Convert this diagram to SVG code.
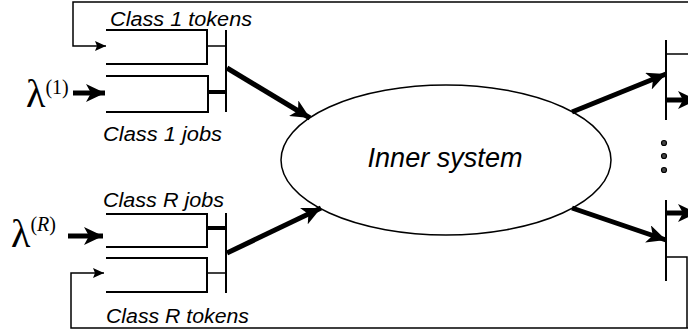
<svg xmlns="http://www.w3.org/2000/svg" width="688" height="333" viewBox="0 0 688 333">
<style>
.q{fill:none;stroke:#000;stroke-width:2}
.bar{fill:none;stroke:#000;stroke-width:2}
.thin{fill:none;stroke:#000;stroke-width:1.5}
.thick{fill:none;stroke:#000;stroke-width:5}
.conn{fill:none;stroke:#000;stroke-width:4}
.lbl{font-family:"Liberation Sans",Arial,sans-serif;font-style:italic;font-size:20px;fill:#000}
.lam{font-family:"Liberation Serif","Times New Roman",serif;fill:#000}
.dot{fill:#444;stroke:#000;stroke-width:1.2}
</style>
<defs>
<marker id="big" markerUnits="userSpaceOnUse" markerWidth="20" markerHeight="18" refX="19" refY="9" orient="auto">
<path d="M0,0 L19,9 L0,18 L5,9 Z" fill="#000"/>
</marker>
<marker id="small" markerUnits="userSpaceOnUse" markerWidth="12" markerHeight="10" refX="11" refY="5" orient="auto">
<path d="M0,0 L11,5 L0,10 L2,5 Z" fill="#000"/>
</marker>
</defs>
<rect width="688" height="333" fill="#fff"/>

<g id="connectors">
<polyline class="thin" points="688,2 73,2 73,46 106,46" marker-end="url(#small)"/>
<polyline class="thin" points="688,328 71,328 71,273 104,273" marker-end="url(#small)"/>
<line class="thick" x1="73" y1="93" x2="105" y2="93" marker-end="url(#big)"/>
<line class="thick" x1="68" y1="236" x2="103" y2="236" marker-end="url(#big)"/>
<line class="thick" x1="227" y1="68" x2="310" y2="118" marker-end="url(#big)"/>
<line class="thick" x1="227" y1="253" x2="321" y2="208" marker-end="url(#big)"/>
<line class="thick" x1="572" y1="112" x2="666" y2="74" marker-end="url(#big)"/>
<line class="thick" x1="572" y1="208" x2="666" y2="240" marker-end="url(#big)"/>
<line class="thick" x1="667" y1="100" x2="697" y2="100" marker-end="url(#big)"/>
<line class="thick" x1="667" y1="213" x2="697" y2="213" marker-end="url(#big)"/>
</g>

<g id="class1-tokens">
<path class="q" d="M106,30 H207 V64 H106"/>
<line class="thin" x1="207" y1="46" x2="226" y2="46"/>
<text class="lbl" x="110" y="26" textLength="142" lengthAdjust="spacingAndGlyphs">Class 1 tokens</text>
</g>
<g id="class1-jobs">
<path class="q" d="M106,76 H208 V112 H106"/>
<line class="conn" x1="208" y1="92" x2="226" y2="92"/>
<text class="lbl" x="103" y="141" textLength="119" lengthAdjust="spacingAndGlyphs">Class 1 jobs</text>
</g>
<g id="sync1">
<line class="bar" x1="226" y1="30" x2="226" y2="112"/>
</g>
<g id="lambda1">
<text class="lam" x="26" y="107" font-size="40">λ<tspan font-size="20" dy="-13">(1)</tspan></text>
</g>

<g id="classR-jobs">
<path class="q" d="M106,214 H207 V247 H106"/>
<line class="conn" x1="207" y1="228" x2="226" y2="228"/>
<text class="lbl" x="103" y="207" textLength="121" lengthAdjust="spacingAndGlyphs">Class R jobs</text>
</g>
<g id="classR-tokens">
<path class="q" d="M106,258 H207 V292 H106"/>
<line class="thin" x1="207" y1="273" x2="226" y2="273"/>
<text class="lbl" x="106" y="323" textLength="143" lengthAdjust="spacingAndGlyphs">Class R tokens</text>
</g>
<g id="syncR">
<line class="bar" x1="226" y1="213" x2="226" y2="293"/>
</g>
<g id="lambdaR">
<text class="lam" x="11" y="247" font-size="40">λ<tspan font-size="20" dy="-16">(<tspan font-style="italic">R</tspan>)</tspan></text>
</g>

<g id="inner-system">
<ellipse cx="446" cy="160" rx="165" ry="75" fill="none" stroke="#000" stroke-width="1.5"/>
<text class="lbl" x="445" y="167" text-anchor="middle" style="font-size:27px" textLength="155" lengthAdjust="spacingAndGlyphs">Inner system</text>
</g>

<g id="out1">
<line class="bar" x1="666" y1="40" x2="666" y2="120"/>
<line class="thin" x1="666" y1="54" x2="688" y2="54"/>
</g>
<g id="outR">
<line class="bar" x1="666" y1="200" x2="666" y2="281"/>
<polyline class="thin" points="666,257 687,257 687,328"/>
</g>
<g id="dots">
<circle class="dot" cx="664" cy="143" r="2.5"/>
<circle class="dot" cx="664" cy="156" r="2.5"/>
<circle class="dot" cx="664" cy="170" r="2.5"/>
</g>
</svg>
